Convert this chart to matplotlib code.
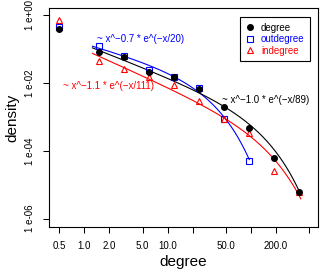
import numpy as np
import matplotlib
matplotlib.use("Agg")
import matplotlib.pyplot as plt
from matplotlib.lines import Line2D

plt.rcParams['font.family'] = ['Liberation Sans', 'DejaVu Sans']

# binned degree values (log bins)
bins = [0.5, 1.5, 3, 6, 12, 24, 48, 96, 192, 384]
degree_density = [0.39, 0.079, 0.058, 0.021, 0.0145, 0.0066, 0.00195, 0.00047, 0.000063, 0.0000063]
out_bins = [0.5, 1.5, 3, 6, 12, 24, 48, 96]
outdegree_density = [0.45, 0.126, 0.062, 0.024, 0.0151, 0.0069, 0.00087, 0.000051]
indegree_density = [0.71, 0.044, 0.0257, 0.0151, 0.0087, 0.0029, 0.00087, 0.00033, 0.0000257, 0.0000063]

# fitted power law with exponential cutoff: A * x^a * exp(-x/c)
fit_degree = dict(A=0.135, a=-0.95, c=89, xmin=1.25, xmax=400)
fit_out = dict(A=0.149, a=-0.68, c=20, xmin=1.25, xmax=96)
fit_in = dict(A=0.0955, a=-1.088, c=111, xmin=1.25, xmax=400)

label_degree = "~ x^\u22121.0 * e^(\u2212x/89)"
label_out = "~ x^\u22120.7 * e^(\u2212x/20)"
label_in = "~ x^\u22121.1 * e^(\u2212x/111)"

xticks = [0.5, 1, 2, 5, 10, 20, 50, 100, 200, 500]
xticklabels = ["0.5", "1.0", "2.0", "5.0", "10.0", "", "50.0", "", "200.0", ""]
yticks = [1, 1e-2, 1e-4, 1e-6]
yticklabels = ["1 e+00", "1 e-02", "1 e-04", "1 e-06"]

fig = plt.figure(figsize=(3.27, 2.73), dpi=100)
ax = fig.add_axes([49/327, 46/273, 269/327, 219/273])
ax.set_xscale('log')
ax.set_yscale('log')
ax.set_xlim(0.376, 643)
ax.set_ylim(5.69e-7, 1.607)

def curve(p):
    x = np.logspace(np.log10(p['xmin']), np.log10(p['xmax']), 200)
    return x, p['A'] * x ** p['a'] * np.exp(-x / p['c'])

lw = 0.8
x, y = curve(fit_out); ax.plot(x, y, color='blue', lw=lw, zorder=2)
x, y = curve(fit_in); ax.plot(x, y, color='red', lw=lw, zorder=2)
x, y = curve(fit_degree); ax.plot(x, y, color='black', lw=lw, zorder=2)

ms_c, ms_s, ms_t = 4.0, 3.7, 4.6
ax.plot(out_bins, outdegree_density, linestyle='none', marker='s', ms=ms_s,
        mfc='none', mec='blue', mew=0.8, zorder=3)
ax.plot(bins, indegree_density, linestyle='none', marker='^', ms=ms_t,
        mfc='none', mec='red', mew=0.8, zorder=3)
ax.plot(bins, degree_density, linestyle='none', marker='o', ms=ms_c,
        color='black', zorder=4)

ax.text(1.42, 0.196, label_out, color='blue', fontsize=7, ha='left', va='center')
ax.text(0.55, 8.1e-3, label_in, color='red', fontsize=7, ha='left', va='center')
ax.text(44.8, 3.13e-3, label_degree, color='black', fontsize=7, ha='left', va='center')

ax.set_xticks(xticks)
ax.set_xticklabels(xticklabels)
ax.xaxis.set_minor_locator(matplotlib.ticker.NullLocator())
ax.set_yticks(yticks)
ax.set_yticklabels(yticklabels, rotation=90, va='center')
ax.yaxis.set_minor_locator(matplotlib.ticker.NullLocator())
ax.tick_params(axis='both', labelsize=7, length=4.3, width=0.75, pad=5.5, colors='black')

for s in ax.spines.values():
    s.set_linewidth(0.8)
    s.set_color('black')

ax.set_xlabel("degree", fontsize=11, labelpad=3)
ax.set_ylabel("density", fontsize=11, labelpad=4)

handles = [
    Line2D([], [], linestyle='none', marker='o', ms=ms_c, color='black'),
    Line2D([], [], linestyle='none', marker='s', ms=ms_s, mfc='none', mec='blue', mew=0.8),
    Line2D([], [], linestyle='none', marker='^', ms=ms_t, mfc='none', mec='red', mew=0.8),
]
leg = ax.legend(handles, ["degree", "outdegree", "indegree"], loc='upper right',
                bbox_to_anchor=(0.970, 0.9575), borderaxespad=0, fontsize=7,
                labelcolor=['black', 'blue', 'red'], fancybox=False, framealpha=1,
                edgecolor='black', handlelength=1.0, handletextpad=0.6,
                labelspacing=0.15, borderpad=0.55)
leg.get_frame().set_linewidth(0.8)

fig.savefig("out.png", dpi=100)
